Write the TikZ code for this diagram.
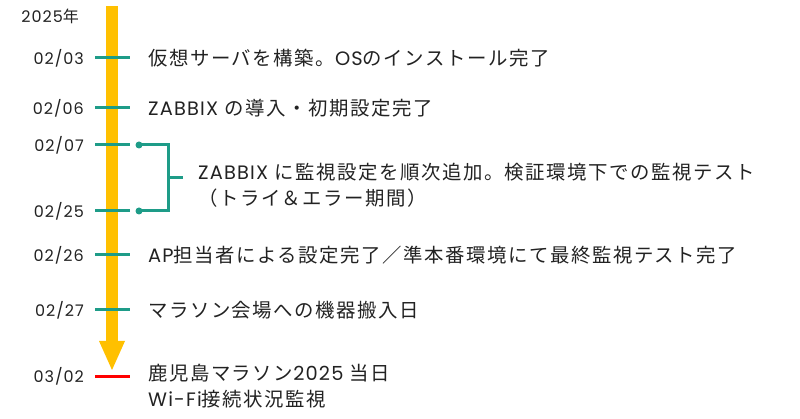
\documentclass[tikz,border=0pt]{standalone}
\usepackage{fontspec}
\setmainfont{Poppins}[LetterSpace=6]
\newfontfamily\jpfont{Noto Sans CJK JP}[LetterSpace=8]
\usetikzlibrary{positioning}
\usetikzlibrary{calc}

\definecolor{barYellow}{HTML}{FFC000}
\definecolor{tickGreen}{HTML}{1E9C88}
\definecolor{inkGray}{HTML}{222222}
\newcommand{\ja}[1]{{\jpfont #1}}

\begin{document}
\begin{tikzpicture}[x=1pt,y=-1pt,
  date/.style={anchor=east,inner sep=0pt,text=inkGray,font=\fontsize{16}{16}\selectfont},
  item/.style={anchor=west,inner sep=0pt,text=inkGray,align=left,font=\fontsize{19.4}{26}\selectfont},
  tick/.style={draw=tickGreen,line width=3pt},
  dot/.style={circle,fill=tickGreen,inner sep=0pt,minimum size=7pt}]
\useasboundingbox (0,0) rectangle (800,419);

% timeline arrow
\fill[barYellow] (106,6) rectangle (118,341);
\fill[barYellow] (99,341) -- (125,341) -- (112,370) -- cycle;

% dates
\node[date] (year) at (79,16) {2025\ja{年}};
\node[date] (d1) at (84,58) {02/03};
\node[date] (d2) at (84,108) {02/06};
\node[date] (d3) at (84,145) {02/07};
\node[date] (d4) at (84,211) {02/25};
\node[date] (d5) at (84,255) {02/26};
\node[date] (d6) at (84,310) {02/27};
\node[date] (d7) at (84,376) {03/02};

% events
\node[item,right=64pt of d1] (t1) {\ja{仮想サーバを構築。}OS\ja{のインストール完了}};
\node[item,right=64pt of d2] (t2) {ZABBIX \ja{の導入・初期設定完了}};
\node[item,anchor=north west] (t3) at (198,163)
  {ZABBIX \ja{に監視設定を順次追加。検証環境下での監視テスト}\\\ja{（トライ＆エラー期間）}};
\node[item,right=64pt of d5] (t5) {AP\ja{担当者による設定完了／準本番環境にて最終監視テスト完了}};
\node[item,right=64pt of d6] (t6) {\ja{マラソン会場への機器搬入日}};
\node[item,anchor=north west] (t7) at (148,364)
  {\ja{鹿児島マラソン}2025 \ja{当日}\\Wi-Fi\ja{接続状況監視}};

% ticks
\draw[tick] ([xshift=11pt]d1.east) -- ++(35,0);
\draw[tick] ([xshift=11pt]d2.east) -- ++(35,0);
\draw[tick] ([xshift=11pt]d3.east) -- ++(35,0);
\draw[tick] ([xshift=11pt]d4.east) -- ++(35,0);
\draw[tick] ([xshift=11pt]d5.east) -- ++(35,0);
\draw[tick] ([xshift=11pt]d6.east) -- ++(35,0);
\draw[tick,draw=red] ([xshift=11pt]d7.east) -- ++(35,0);

% bracket 02/07 - 02/25
\coordinate (b3) at ([xshift=55pt]d3.east);
\coordinate (b4) at ([xshift=55pt]d4.east);
\coordinate (bm) at ($(b3)!0.5!(b4)+(29,0)$);
\draw[tick] (b3) -- ++(29,0) |- (b4);
\draw[tick] (bm) -- ++(15,0);
\node[dot] at (b3) {};
\node[dot] at (b4) {};

\end{tikzpicture}
\end{document}
